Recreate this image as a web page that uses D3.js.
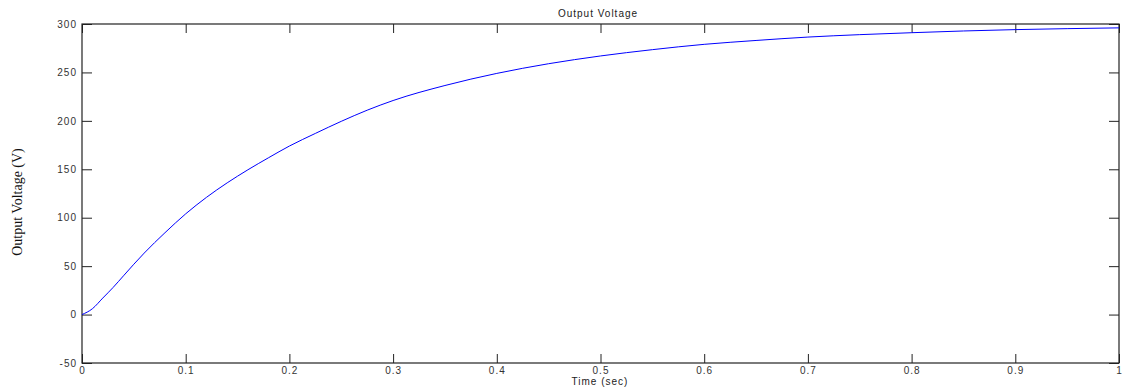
<!DOCTYPE html>
<html>
<head>
<meta charset="utf-8">
<script src="https://cdn.jsdelivr.net/npm/d3@7"></script>
<style>
  body { margin: 0; background: #fff; }
  svg { display: block; }
  .tick text { font-family: Arial, "Liberation Sans", sans-serif; font-size: 10px; letter-spacing: 1px; fill: #333; }
</style>
</head>
<body>
<svg id="chart"></svg>
<script>
// time (sec) and output voltage (V)
const timeValues = [0, 0.01, 0.02, 0.03, 0.04, 0.05, 0.06, 0.08, 0.1, 0.12, 0.14, 0.16, 0.18, 0.2,
  0.225, 0.25, 0.275, 0.3, 0.35, 0.4, 0.45, 0.5, 0.55, 0.6, 0.65, 0.7, 0.75, 0.8, 0.85, 0.9, 0.95, 1];
const voltageValues = [0, 6, 17, 28, 40, 52, 63.5, 84.5, 104, 121, 136, 149.5, 162, 174,
  187, 199.5, 211, 221, 236.5, 249, 259, 267, 273.5, 279, 283, 286.5, 289, 291, 292.8, 294.2, 295.2, 296];
const xTicks = [0, 0.1, 0.2, 0.3, 0.4, 0.5, 0.6, 0.7, 0.8, 0.9, 1];
const yTicks = [-50, 0, 50, 100, 150, 200, 250, 300];

const width = 1137, height = 390;
const margin = { top: 24, right: 18, bottom: 27, left: 82 };
const innerW = width - margin.left - margin.right;
const innerH = height - margin.top - margin.bottom;

const svg = d3.select('#chart')
  .attr('width', width)
  .attr('height', height);

const g = svg.append('g')
  .attr('transform', `translate(${margin.left},${margin.top})`);

const x = d3.scaleLinear().domain([0, 1]).range([0, innerW]);
const y = d3.scaleLinear().domain([-50, 300]).range([innerH, 0]);

const fmtX = d => d === 0 || d === 1 ? String(d) : d3.format('.1f')(d);

// bottom axis with inward ticks
g.append('g')
  .attr('transform', `translate(0,${innerH})`)
  .call(d3.axisBottom(x).tickValues(xTicks).tickFormat(fmtX).tickSizeInner(-9).tickSizeOuter(0).tickPadding(4))
  .call(a => a.select('.domain').remove());

// top axis ticks (mirror)
g.append('g')
  .call(d3.axisTop(x).tickValues(xTicks).tickFormat('').tickSizeInner(-9).tickSizeOuter(0))
  .call(a => a.select('.domain').remove());

// left axis, plain hyphen for negatives
g.append('g')
  .call(d3.axisLeft(y).tickValues(yTicks).tickFormat(d => String(d)).tickSizeInner(-10).tickSizeOuter(0).tickPadding(5))
  .call(a => a.select('.domain').remove());

// right axis ticks
g.append('g')
  .attr('transform', `translate(${innerW},0)`)
  .call(d3.axisRight(y).tickValues(yTicks).tickFormat('').tickSizeInner(-10).tickSizeOuter(0))
  .call(a => a.select('.domain').remove());

g.selectAll('.tick line').attr('stroke', '#222');

// frame
g.append('rect')
  .attr('width', innerW)
  .attr('height', innerH)
  .attr('fill', 'none')
  .attr('stroke', '#222')
  .attr('stroke-width', 1.2);

// voltage curve
const line = d3.line()
  .x((d, i) => x(timeValues[i]))
  .y(d => y(d))
  .curve(d3.curveMonotoneX);

g.append('path')
  .datum(voltageValues)
  .attr('d', line)
  .attr('fill', 'none')
  .attr('stroke', '#0000ff')
  .attr('stroke-width', 1);

// title
svg.append('text')
  .attr('x', 598)
  .attr('y', 17)
  .attr('text-anchor', 'middle')
  .style('font-family', 'Arial, "Liberation Sans", sans-serif')
  .style('font-size', '10px')
  .style('letter-spacing', '1px')
  .style('fill', '#222')
  .text('Output Voltage');

// x label
svg.append('text')
  .attr('x', 600)
  .attr('y', 385)
  .attr('text-anchor', 'middle')
  .style('font-family', 'Arial, "Liberation Sans", sans-serif')
  .style('font-size', '10px')
  .style('letter-spacing', '1px')
  .style('fill', '#222')
  .text('Time (sec)');

// y label
svg.append('text')
  .attr('transform', 'translate(22,202) rotate(-90)')
  .attr('text-anchor', 'middle')
  .style('font-family', '"Liberation Serif", "Times New Roman", serif')
  .style('font-size', '14px')
  .style('fill', '#111')
  .text('Output Voltage (V)');
</script>
</body>
</html>
